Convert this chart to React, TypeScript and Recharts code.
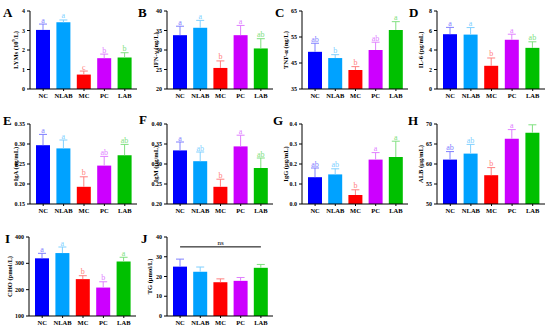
import React from 'react';
import { BarChart, Bar, XAxis, YAxis, Cell, ReferenceLine } from 'recharts';

const groups = ['NC', 'NLAB', 'MC', 'PC', 'LAB'];
const barColors = ['#0000FF', '#00A2FF', '#FF0000', '#CC00FF', '#00C000'];
const errColors = ['#8080FF', '#80D0FF', '#FF8080', '#E080FF', '#80E080'];

const lymsMean = [3.03, 3.42, 0.74, 1.58, 1.62];
const lymsErr = [0.30, 0.12, 0.18, 0.21, 0.24];
const lymsSig = ['a', 'a', 'c', 'b', 'b'];
const lymsTicks = [0, 1, 2, 3, 4];

const ifnMean = [33.8, 35.7, 25.4, 33.8, 30.4];
const ifnErr = [2.3, 1.9, 1.8, 2.5, 2.5];
const ifnSig = ['a', 'a', 'b', 'a', 'ab'];
const ifnTicks = [20, 25, 30, 35, 40];

const tnfMean = [49.3, 46.9, 42.3, 50.0, 57.7];
const tnfErr = [3.3, 1.3, 1.3, 3.0, 3.2];
const tnfSig = ['ab', 'b', 'b', 'ab', 'a'];
const tnfTicks = [35, 45, 55, 65];

const il6Mean = [5.62, 5.58, 2.38, 5.05, 4.22];
const il6Err = [0.7, 0.72, 0.8, 0.57, 0.62];
const il6Sig = ['a', 'a', 'b', 'a', 'ab'];
const il6Ticks = [0, 2, 4, 6, 8];

const igaMean = [0.297, 0.289, 0.193, 0.246, 0.272];
const igaErr = [0.027, 0.021, 0.025, 0.023, 0.027];
const igaSig = ['a', 'a', 'b', 'ab', 'ab'];
const igaTicks = [0.15, 0.2, 0.25, 0.3, 0.35];

const igmMean = [0.334, 0.307, 0.243, 0.344, 0.29];
const igmErr = [0.021, 0.023, 0.019, 0.028, 0.025];
const igmSig = ['a', 'ab', 'b', 'a', 'ab'];
const igmTicks = [0.2, 0.25, 0.3, 0.35, 0.4];

const iggMean = [0.134, 0.148, 0.045, 0.222, 0.235];
const iggErr = [0.046, 0.028, 0.026, 0.035, 0.079];
const iggSig = ['ab', 'ab', 'b', 'a', 'a'];
const iggTicks = [0, 0.1, 0.2, 0.3, 0.4];

const albMean = [61.1, 62.6, 57.2, 66.3, 67.8];
const albErr = [2.0, 2.3, 1.9, 2.3, 2.0];
const albSig = ['ab', 'ab', 'b', 'a', 'a'];
const albTicks = [50, 55, 60, 65, 70];

const choMean = [319, 339, 240, 208, 307];
const choErr = [19, 23, 13, 22, 16];
const choSig = ['a', 'a', 'b', 'b', 'a'];
const choTicks = [100, 200, 300, 400];

const tgMean = [25.0, 22.4, 17.1, 17.8, 24.4];
const tgErr = [3.8, 2.4, 1.7, 1.7, 1.7];
const tgSig = ['', '', '', '', ''];
const tgTicks = [0, 10, 20, 30, 40];
const tgNsLevel = 35;

const FONT = '"Liberation Serif", "Times New Roman", serif';
const YW = 40;
const MT = 8;
const MR = 4;
const XH = 14;

type Part = { t: string; sup?: boolean };

type PanelCfg = {
  letter: string;
  label: Part[];
  mean: number[];
  err: number[];
  sig: string[];
  ticks: number[];
  dec: number;
  plotX: number;
  plotY: number;
  plotW: number;
  plotH: number;
  labelOff: number;
  letterX: number;
  letterY: number;
  ns?: number;
};

const panels: PanelCfg[] = [
  { letter: 'A', label: [{ t: 'LYMs (10' }, { t: '9', sup: true }, { t: '/L)' }], mean: lymsMean, err: lymsErr, sig: lymsSig, ticks: lymsTicks, dec: 0, plotX: 30, plotY: 11, plotW: 107, plotH: 78, labelOff: 15, letterX: 3, letterY: 17 },
  { letter: 'B', label: [{ t: 'IFN-γ (ng/L)' }], mean: ifnMean, err: ifnErr, sig: ifnSig, ticks: ifnTicks, dec: 0, plotX: 167, plotY: 11, plotW: 106, plotH: 78, labelOff: 12, letterX: 138, letterY: 17 },
  { letter: 'C', label: [{ t: 'TNF-α (ng/L)' }], mean: tnfMean, err: tnfErr, sig: tnfSig, ticks: tnfTicks, dec: 0, plotX: 302, plotY: 11, plotW: 106, plotH: 78, labelOff: 17, letterX: 275, letterY: 17 },
  { letter: 'D', label: [{ t: 'IL-6 (pg/mL)' }], mean: il6Mean, err: il6Err, sig: il6Sig, ticks: il6Ticks, dec: 0, plotX: 437, plotY: 11, plotW: 108, plotH: 78, labelOff: 17, letterX: 409, letterY: 17 },
  { letter: 'E', label: [{ t: 'IgA (ng/mL)' }], mean: igaMean, err: igaErr, sig: igaSig, ticks: igaTicks, dec: 2, plotX: 30, plotY: 124, plotW: 107, plotH: 80, labelOff: 15, letterX: 3, letterY: 125 },
  { letter: 'F', label: [{ t: 'IgM (μg/mL)' }], mean: igmMean, err: igmErr, sig: igmSig, ticks: igmTicks, dec: 2, plotX: 167, plotY: 124, plotW: 106, plotH: 80, labelOff: 12, letterX: 139, letterY: 124 },
  { letter: 'G', label: [{ t: 'IgG (μg/mL)' }], mean: iggMean, err: iggErr, sig: iggSig, ticks: iggTicks, dec: 1, plotX: 302, plotY: 124, plotW: 106, plotH: 80, labelOff: 17, letterX: 273, letterY: 125 },
  { letter: 'H', label: [{ t: 'ALB (μg/mL)' }], mean: albMean, err: albErr, sig: albSig, ticks: albTicks, dec: 0, plotX: 437, plotY: 124, plotW: 108, plotH: 80, labelOff: 17, letterX: 408, letterY: 125 },
  { letter: 'I', label: [{ t: 'CHO (pmol/L)' }], mean: choMean, err: choErr, sig: choSig, ticks: choTicks, dec: 0, plotX: 29, plotY: 237, plotW: 107, plotH: 79, labelOff: 20, letterX: 5, letterY: 243 },
  { letter: 'J', label: [{ t: 'TG (μmol/L)' }], mean: tgMean, err: tgErr, sig: tgSig, ticks: tgTicks, dec: 0, plotX: 167, plotY: 237, plotW: 106, plotH: 79, labelOff: 18, letterX: 141, letterY: 243, ns: tgNsLevel },
];

const ErrShape = (props: any) => {
  const { x, y, width, height, index, payload } = props;
  if (x == null || y == null) return null;
  const cx = x + width / 2;
  const c = errColors[index % errColors.length];
  return (
    <g>
      <line x1={cx} x2={cx} y1={y} y2={y + height} stroke={c} strokeWidth={1} />
      <line x1={cx - 4} x2={cx + 4} y1={y} y2={y} stroke={c} strokeWidth={1} />
      {payload && payload.sig ? (
        <text x={cx} y={y - 1.5} textAnchor="middle" fontSize={8} fontFamily={FONT} fill={c}>
          {payload.sig}
        </text>
      ) : null}
    </g>
  );
};

const Panel = ({ cfg }: { cfg: PanelCfg }) => {
  const data = groups.map((g, i) => ({
    name: g,
    mean: cfg.mean[i],
    range: [cfg.mean[i], cfg.mean[i] + cfg.err[i]],
    sig: cfg.sig[i],
  }));
  const w = YW + cfg.plotW + MR;
  const h = MT + cfg.plotH + XH;
  const domain = [cfg.ticks[0], cfg.ticks[cfg.ticks.length - 1]];
  const lx = YW - cfg.labelOff;
  const ly = MT + cfg.plotH / 2;
  const yLabel = () => (
    <text
      x={lx}
      y={ly}
      transform={`rotate(-90 ${lx} ${ly})`}
      textAnchor="middle"
      dominantBaseline="central"
      fontSize={6.5}
      fontWeight="bold"
      fontFamily={FONT}
      fill="#000"
    >
      {cfg.label.map((p, k) =>
        p.sup ? (
          <tspan key={k} fontSize={4.5} dy={-2.5}>{p.t}</tspan>
        ) : (
          <tspan key={k} dy={k > 0 && cfg.label[k - 1].sup ? 2.5 : 0}>{p.t}</tspan>
        )
      )}
    </text>
  );
  return (
    <div style={{ position: 'absolute', left: cfg.plotX - YW, top: cfg.plotY - MT }}>
      <BarChart width={w} height={h} data={data} margin={{ top: MT, right: MR, left: 0, bottom: 0 }} barGap={0}>
        <XAxis
          dataKey="name"
          xAxisId="m"
          orientation="bottom"
          height={XH}
          interval={0}
          padding={{ left: 3, right: 2 }}
          tickSize={2}
          axisLine={{ stroke: '#000', strokeWidth: 1 }}
          tickLine={{ stroke: '#000' }}
          tick={{ fontSize: 6.5, fontWeight: 'bold', fontFamily: FONT, fill: '#000' }}
        />
        <XAxis dataKey="name" xAxisId="z" orientation="top" height={0} hide padding={{ left: 3, right: 2 }} />
        <YAxis
          width={YW}
          type="number"
          domain={domain}
          ticks={cfg.ticks}
          interval={0}
          allowDataOverflow
          tickSize={3}
          axisLine={{ stroke: '#000', strokeWidth: 1 }}
          tickLine={{ stroke: '#000' }}
          tick={{ fontSize: 6, fontWeight: 'bold', fontFamily: FONT, fill: '#000' }}
          tickFormatter={(v: number) => v.toFixed(cfg.dec)}
          label={yLabel}
        />
        <Bar dataKey="mean" xAxisId="m" barSize={14} isAnimationActive={false}>
          {data.map((d, i) => (
            <Cell key={d.name} fill={barColors[i]} />
          ))}
        </Bar>
        <Bar dataKey="range" xAxisId="z" barSize={14} isAnimationActive={false} shape={ErrShape} />
        {cfg.ns != null ? (
          <ReferenceLine
            xAxisId="m"
            segment={[{ x: groups[0], y: cfg.ns }, { x: groups[groups.length - 1], y: cfg.ns }]}
            stroke="#000"
            strokeWidth={1}
            label={{ value: 'ns', position: 'top', fontSize: 7, fontFamily: FONT, fill: '#000', offset: 2 }}
          />
        ) : null}
      </BarChart>
    </div>
  );
};

export default function App() {
  return (
    <div style={{ position: 'absolute', left: 0, top: 0, width: 550, height: 331, background: '#fff', overflow: 'hidden' }}>
      {panels.map((p) => (
        <Panel key={p.letter} cfg={p} />
      ))}
      <svg width={550} height={331} style={{ position: 'absolute', left: 0, top: 0, pointerEvents: 'none' }}>
        {panels.map((p) => (
          <text
            key={'l' + p.letter}
            x={p.letterX}
            y={p.letterY}
            fontFamily={FONT}
            fontWeight="bold"
            fontSize={13}
            fill="#000"
          >
            {p.letter}
          </text>
        ))}
      </svg>
    </div>
  );
}
